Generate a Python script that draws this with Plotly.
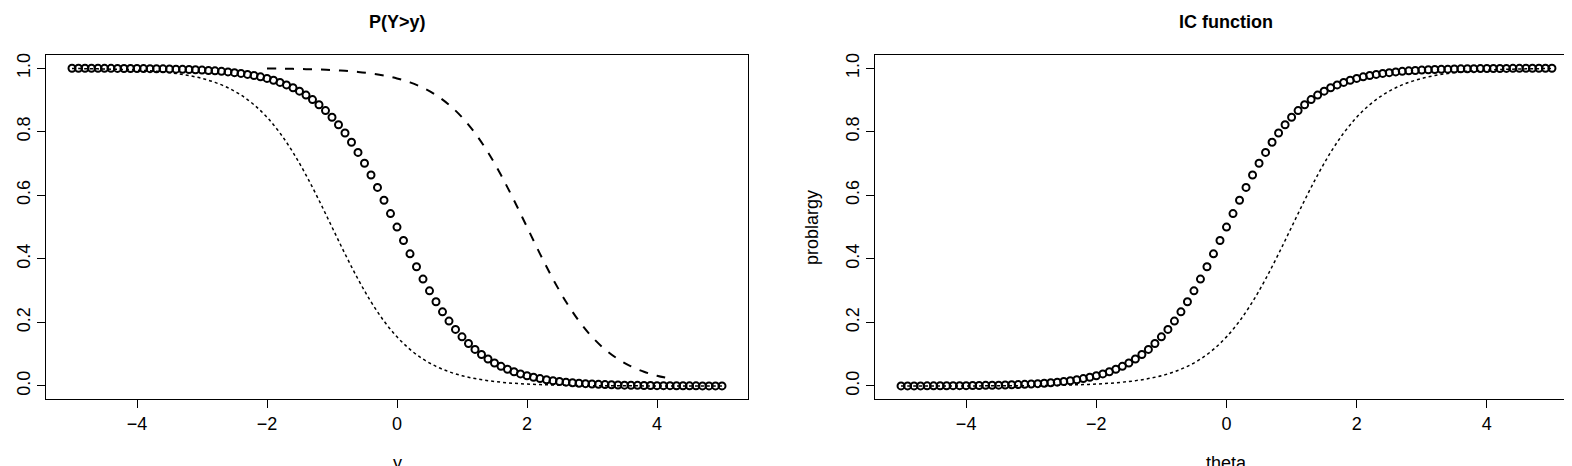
import plotly.graph_objects as go

x_grid = [round(-5 + 0.1 * i, 1) for i in range(101)]
x_line = [round(-5 + 0.2 * i, 1) for i in range(51)]
x_dash = [round(-2 + 0.2 * i, 1) for i in range(32)]

left_circles = [0.9998,0.9998,0.9997,0.9997,0.9996,0.9995,0.9994,0.9993,0.999,0.999,
    0.9989,0.9987,0.9985,0.9981,0.9978,0.9974,0.9969,0.9963,0.9957,0.9949,
    0.9939,0.9928,0.9915,0.9899,0.9881,0.9859,0.9834,0.9804,0.9768,0.9726,
    0.9677,0.9620,0.9552,0.9473,0.9382,0.9276,0.9153,0.9011,0.8849,0.8665,
    0.8455,0.8220,0.7958,0.7667,0.7350,0.7006,0.6637,0.6248,0.5842,0.5424,
    0.5,
    0.4576,0.4158,0.3752,0.3363,0.2994,0.2650,0.2333,0.2042,0.1780,0.1545,
    0.1335,0.1151,0.0989,0.0847,0.0724,0.0618,0.0527,0.0448,0.0380,0.0323,
    0.0274,0.0232,0.0196,0.0166,0.0141,0.0119,0.0101,0.0085,0.0072,0.0061,
    0.0051,0.0043,0.0037,0.0031,0.0026,0.0022,0.0019,0.0015,0.0013,0.0011,
    0.001,0.001,0.0007,0.0006,0.0005,0.0004,0.0003,0.0003,0.0002,0.0002]

right_circles = [0.0002,0.0002,0.0003,0.0003,0.0004,0.0005,0.0006,0.0007,0.001,0.001,
    0.0011,0.0013,0.0015,0.0019,0.0022,0.0026,0.0031,0.0037,0.0043,0.0051,
    0.0061,0.0072,0.0085,0.0101,0.0119,0.0141,0.0166,0.0196,0.0232,0.0274,
    0.0323,0.0380,0.0448,0.0527,0.0618,0.0724,0.0847,0.0989,0.1151,0.1335,
    0.1545,0.1780,0.2042,0.2333,0.2650,0.2994,0.3363,0.3752,0.4158,0.4576,
    0.5,
    0.5424,0.5842,0.6248,0.6637,0.7006,0.7350,0.7667,0.7958,0.8220,0.8455,
    0.8665,0.8849,0.9011,0.9153,0.9276,0.9382,0.9473,0.9552,0.9620,0.9677,
    0.9726,0.9768,0.9804,0.9834,0.9859,0.9881,0.9899,0.9915,0.9928,0.9939,
    0.9949,0.9957,0.9963,0.9969,0.9974,0.9978,0.9981,0.9985,0.9987,0.9989,
    0.999,0.999,0.9993,0.9994,0.9995,0.9996,0.9997,0.9997,0.9998,0.9998]

left_dotted = [0.9989,0.9985,0.9978,0.9969,0.9957,0.9939,0.9915,0.9881,0.9834,0.9768,
    0.9677,0.9552,0.9382,0.9153,0.8849,0.8455,0.7958,0.7350,0.6637,0.5842,
    0.5,0.4158,0.3363,0.2650,0.2042,0.1545,0.1151,0.0847,0.0618,0.0448,
    0.0323,0.0232,0.0166,0.0119,0.0085,0.0061,0.0043,0.0031,0.0022,0.0015,
    0.0011,0.001,0.0006,0.0004,0.0003,0.0002,0.0001,0.0001,0.0001,0.0001,0.0001]

left_dashed = [0.9989,0.9985,0.9978,0.9969,0.9957,0.9939,0.9915,0.9881,0.9834,0.9768,
    0.9677,0.9552,0.9382,0.9153,0.8849,0.8455,0.7958,0.7350,0.6637,0.5842,
    0.5,0.4158,0.3363,0.2650,0.2042,0.1545,0.1151,0.0847,0.0618,0.0448,
    0.0323,0.0232]

right_dotted = [0.0001,0.0001,0.0001,0.0001,0.0001,0.0002,0.0003,0.0004,0.0006,0.001,
    0.0011,0.0015,0.0022,0.0031,0.0043,0.0061,0.0085,0.0119,0.0166,0.0232,
    0.0323,0.0448,0.0618,0.0847,0.1151,0.1545,0.2042,0.2650,0.3363,0.4158,
    0.5,0.5842,0.6637,0.7350,0.7958,0.8455,0.8849,0.9153,0.9382,0.9552,
    0.9677,0.9768,0.9834,0.9881,0.9915,0.9939,0.9957,0.9969,0.9978,0.9985,0.9989]

titles = ["P(Y>y)", "IC function"]
xlabels = ["y", "theta"]
ylabel_right = "problargy"
xticks = [-4, -2, 0, 2, 4]
yticks = [0.0, 0.2, 0.4, 0.6, 0.8, 1.0]

FONT = "Liberation Sans, Arial, sans-serif"
circ = dict(symbol="circle-open", size=7, color="black", line=dict(width=2, color="black"))

fig = go.Figure()
fig.add_trace(go.Scatter(x=x_line, y=left_dotted, mode="lines", line=dict(color="black", width=1.5, dash="dot", shape="spline"), xaxis="x", yaxis="y"))
fig.add_trace(go.Scatter(x=x_dash, y=left_dashed, mode="lines", line=dict(color="black", width=2, dash="dash", shape="spline"), xaxis="x", yaxis="y"))
fig.add_trace(go.Scatter(x=x_grid, y=left_circles, mode="markers", marker=circ, xaxis="x", yaxis="y"))
fig.add_trace(go.Scatter(x=x_line, y=right_dotted, mode="lines", line=dict(color="black", width=1.5, dash="dot", shape="spline"), xaxis="x2", yaxis="y2"))
fig.add_trace(go.Scatter(x=x_grid, y=right_circles, mode="markers", marker=circ, xaxis="x2", yaxis="y2"))

ax = dict(showgrid=False, zeroline=False, showline=True, linecolor="black", linewidth=1.2, mirror=True,
          ticks="outside", ticklen=8, tickcolor="black", tickfont=dict(family=FONT, size=18, color="black"))
yd = [1 - 391 / 466, 1 - 45 / 466]
fig.update_layout(
    width=1572, height=466, margin=dict(l=0, r=0, t=0, b=0),
    paper_bgcolor="white", plot_bgcolor="white", showlegend=False,
    font=dict(family=FONT, color="black"),
    xaxis=dict(ax, domain=[38 / 1572, 740 / 1572], range=[-5.4, 5.4], tickvals=xticks, ticktext=["−4", "−2", "0", "2", "4"], anchor="y"),
    yaxis=dict(ax, domain=yd, range=[-0.042, 1.042], tickvals=yticks, ticktext=["0.0", "0.2", "0.4", "0.6", "0.8", "1.0"], tickangle=-90, anchor="x"),
    xaxis2=dict(ax, domain=[867 / 1572, 1570 / 1572], range=[-5.4, 5.4], tickvals=xticks, ticktext=["−4", "−2", "0", "2", "4"], anchor="y2"),
    yaxis2=dict(ax, domain=yd, range=[-0.042, 1.042], tickvals=yticks, ticktext=["0.0", "0.2", "0.4", "0.6", "0.8", "1.0"], tickangle=-90, anchor="x2"),
)
anns = [
    dict(text="<b>" + titles[0] + "</b>", x=389 / 1572, y=1 - 12 / 466),
    dict(text="<b>" + titles[1] + "</b>", x=1218 / 1572, y=1 - 12 / 466),
    dict(text=xlabels[0], x=389 / 1572, y=1 - 455 / 466),
    dict(text=xlabels[1], x=1218 / 1572, y=1 - 455 / 466),
    dict(text=ylabel_right, x=804 / 1572, y=1 - 218 / 466, textangle=-90),
]
for a in anns:
    fig.add_annotation(xref="paper", yref="paper", showarrow=False, xanchor="center", yanchor="middle",
                       font=dict(family=FONT, size=18, color="black"), **a)
fig.write_html("out.html")
